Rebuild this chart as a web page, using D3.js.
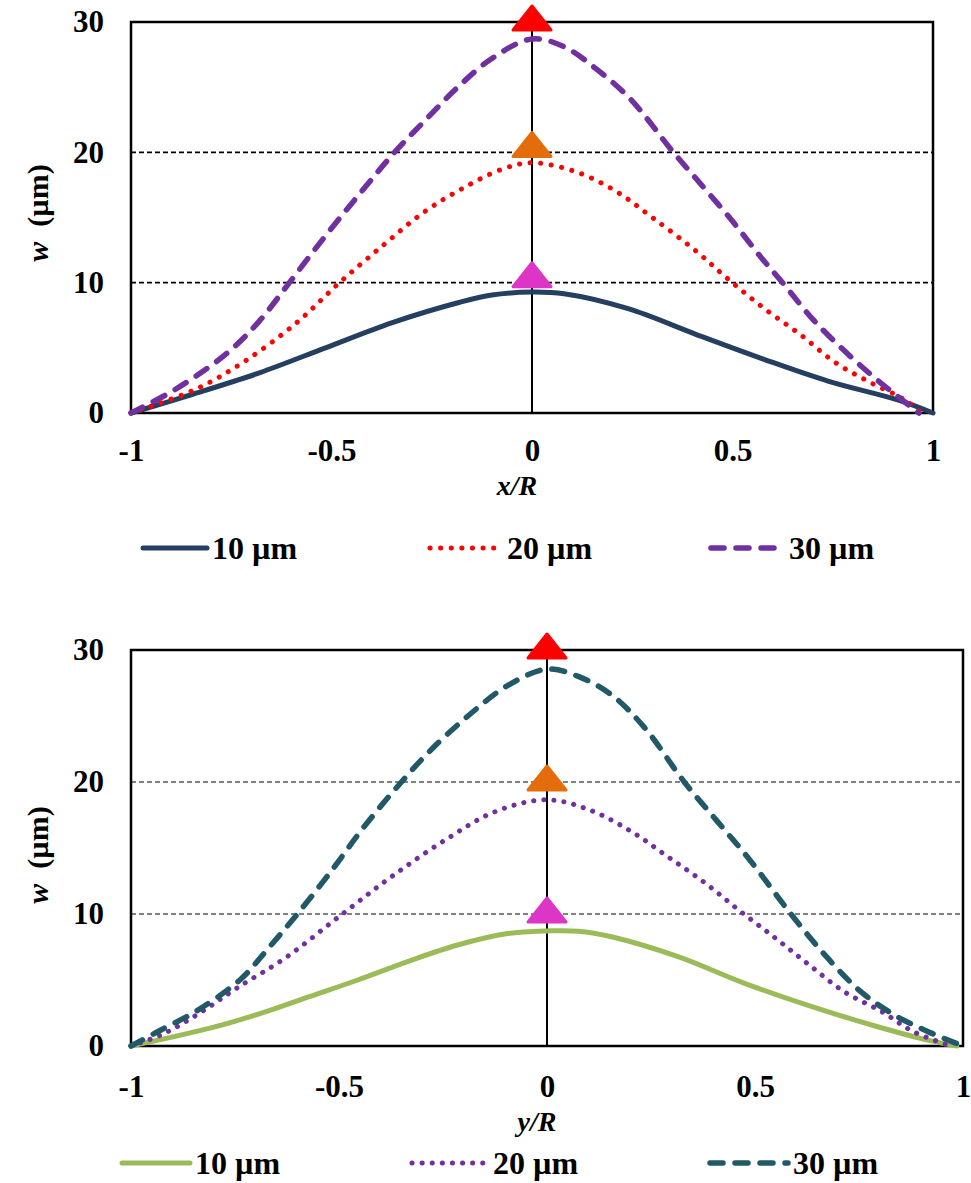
<!DOCTYPE html>
<html>
<head>
<meta charset="utf-8">
<script src="https://cdn.jsdelivr.net/npm/d3@7"></script>
<style>
  body { margin: 0; background: #fff; }
  text { font-family: "Liberation Serif", "Times New Roman", serif; font-weight: bold; }
</style>
</head>
<body>
<div id="chart"></div>
<script>
// ---- data ----
var xTicks = [-1, -0.5, 0, 0.5, 1];
var yTicks = [0, 10, 20, 30];
var gridValues = [10, 20];
var seriesNames = ["10 µm", "20 µm", "30 µm"];

// top panel (x/R)
var topX10 = [-1, -0.85, -0.68, -0.515, -0.35, -0.18, -0.1, 0, 0.08, 0.24, 0.41, 0.58, 0.74, 0.91, 1];
var topW10 = [0, 1.4, 3.08, 5.0, 6.92, 8.5, 9.05, 9.28, 9.15, 8.0, 6.02, 4.1, 2.43, 1.02, 0];
var topX20 = [-1, -0.84, -0.72, -0.59, -0.48, -0.37, -0.27, -0.175, -0.075, 0, 0.11, 0.21, 0.3, 0.41, 0.49, 0.58, 0.67, 0.755, 0.84, 0.93, 0.97];
var topW20 = [0, 1.8, 3.9, 6.85, 10.0, 12.9, 15.4, 17.2, 18.7, 19.2, 18.5, 17.0, 15.0, 12.4, 10.25, 8.0, 6.0, 3.9, 2.4, 1.0, 0];
var topX30 = [-1, -0.89, -0.76, -0.68, -0.605, -0.515, -0.425, -0.34, -0.265, -0.185, -0.1, 0, 0.08, 0.16, 0.245, 0.35, 0.41, 0.495, 0.575, 0.625, 0.7, 0.785, 0.87, 0.965];
var topW30 = [0, 1.8, 4.6, 7.05, 10.0, 13.6, 17.0, 20.1, 22.5, 25.0, 27.2, 28.7, 28.1, 26.4, 24.1, 20.1, 17.95, 14.9, 11.8, 10.0, 7.2, 4.6, 2.3, 0];
var topMarkers = [30, 20.3, 10.3];

// bottom panel (y/R)
var botX10 = [-1, -0.81, -0.69, -0.575, -0.455, -0.335, -0.215, -0.095, 0, 0.075, 0.155, 0.315, 0.475, 0.635, 0.795, 0.915, 0.985];
var botW10 = [0, 1.35, 2.45, 3.7, 5.0, 6.4, 7.65, 8.52, 8.72, 8.7, 8.28, 6.77, 4.75, 3.0, 1.46, 0.45, 0];
var botX20 = [-1, -0.92, -0.83, -0.745, -0.63, -0.5, -0.375, -0.245, -0.125, 0, 0.105, 0.205, 0.29, 0.38, 0.465, 0.55, 0.63, 0.715, 0.805, 0.88, 0.97];
var botW20 = [0, 0.95, 2.6, 4.4, 6.65, 9.8, 12.8, 15.6, 17.75, 18.65, 17.85, 16.2, 14.35, 12.35, 10.2, 8.15, 6.15, 4.1, 2.6, 1.1, 0];
var botX30 = [-1, -0.935, -0.84, -0.735, -0.67, -0.6, -0.52, -0.44, -0.35, -0.28, -0.19, -0.095, 0, 0.075, 0.155, 0.235, 0.33, 0.41, 0.49, 0.585, 0.675, 0.755, 0.835, 0.915, 1];
var botW30 = [0, 1.1, 2.7, 5.1, 7.4, 10.0, 13.2, 16.6, 20.0, 22.4, 25.0, 27.3, 28.55, 28.0, 26.6, 24.1, 20.0, 17.0, 14.0, 10.05, 6.65, 4.1, 2.35, 1.1, 0];
var botMarkers = [30, 20, 10];

var markerColors = ["#ff0000", "#e46c0a", "#dd35c6"];

function zip(xs, ws) {
    return xs.map(function(x, i) { return {x: x, w: ws[i]}; });
}

var svg = d3.select("#chart").append("svg")
    .attr("width", 971)
    .attr("height", 1183);

function drawPanel(p) {
    var x = d3.scaleLinear().domain([-1, 1]).range([p.left, p.right]);
    var y = d3.scaleLinear().domain([0, 30]).range([p.bottom, p.top]);
    var g = svg.append("g");

    // dashed gridlines
    g.selectAll(".grid").data(gridValues).enter().append("line")
        .attr("x1", p.left).attr("x2", p.right)
        .attr("y1", function(d) { return y(d); })
        .attr("y2", function(d) { return y(d); })
        .attr("stroke", p.gridColor)
        .attr("stroke-width", 1.6)
        .attr("stroke-dasharray", "5,3");

    // centre vertical line
    g.append("line")
        .attr("x1", x(0)).attr("x2", x(0))
        .attr("y1", y(0)).attr("y2", y(30))
        .attr("stroke", "#000").attr("stroke-width", 2);

    // frame
    g.append("rect")
        .attr("x", p.left).attr("y", p.top)
        .attr("width", p.right - p.left).attr("height", p.bottom - p.top)
        .attr("fill", "none").attr("stroke", "#000").attr("stroke-width", 2.5);

    // axes with labels only
    var xAxis = g.append("g")
        .attr("transform", "translate(0," + p.bottom + ")")
        .call(d3.axisBottom(x).tickValues(xTicks).tickSize(0).tickPadding(p.xPad)
            .tickFormat(function(d) { return String(d); }));
    var yAxis = g.append("g")
        .attr("transform", "translate(" + p.left + ",0)")
        .call(d3.axisLeft(y).tickValues(yTicks).tickSize(0).tickPadding(27));
    [xAxis, yAxis].forEach(function(a) {
        a.select(".domain").remove();
        a.selectAll("text")
            .attr("font-size", 31)
            .attr("fill", "#000");
    });

    // curves (smoothed like the spreadsheet lines)
    var line = d3.line()
        .x(function(d) { return x(d.x); })
        .y(function(d) { return y(d.w); })
        .curve(d3.curveCatmullRom.alpha(0.5));

    p.series.forEach(function(s) {
        g.append("path")
            .datum(s.data)
            .attr("fill", "none")
            .attr("stroke", s.color)
            .attr("stroke-width", s.width)
            .attr("stroke-dasharray", s.dash)
            .attr("stroke-linecap", "round")
            .attr("d", line);
    });

    // triangle markers at the centre
    var tri = "M0,-16 L-19,8 L19,8 Z";
    g.selectAll(".marker").data(p.markers).enter().append("path")
        .attr("d", tri)
        .attr("transform", function(d) { return "translate(" + x(0) + "," + y(d) + ")"; })
        .attr("fill", function(d, i) { return markerColors[i]; })
        .attr("stroke", function(d, i) { return markerColors[i]; })
        .attr("stroke-width", 3)
        .attr("stroke-linejoin", "round");

    // axis titles
    g.append("text")
        .attr("x", p.xTitleX).attr("y", p.bottom + p.xTitleDy)
        .attr("text-anchor", "middle")
        .attr("font-size", 28)
        .attr("font-style", "italic")
        .text(p.xTitle);

    var yt = g.append("text")
        .attr("transform", "translate(48," + p.yTitleY + ") rotate(-90)")
        .attr("text-anchor", "middle")
        .attr("font-size", 30);
    yt.append("tspan").attr("font-style", "italic").text("w");
    yt.append("tspan").text("\u00a0 (µm)");

    // legend
    var lg = g.selectAll(".legend").data(p.series).enter().append("g")
        .attr("transform", function(d, i) { return "translate(" + p.legendX[i] + "," + p.legendY + ")"; });
    lg.append("line")
        .attr("x1", 0).attr("x2", function(d) { return d.legLen; })
        .attr("y1", 0).attr("y2", 0)
        .attr("stroke", function(d) { return d.color; })
        .attr("stroke-width", function(d) { return d.width; })
        .attr("stroke-dasharray", function(d) { return d.dash; })
        .attr("stroke-linecap", "round");
    lg.append("text")
        .attr("x", function(d) { return d.legLen + 5; })
        .attr("y", 11)
        .attr("font-size", 32)
        .text(function(d, i) { return seriesNames[i]; });
}

drawPanel({
    left: 131, right: 933, top: 22, bottom: 413,
    gridColor: "#000",
    xPad: 26,
    xTitle: "x/R", xTitleX: 517, xTitleDy: 82,
    yTitleY: 213,
    legendY: 548, legendX: [143, 430, 711],
    markers: topMarkers,
    series: [
        {data: zip(topX10, topW10), color: "#243f60", width: 5, dash: null, legLen: 64},
        {data: zip(topX20, topW20), color: "#ff0000", width: 5, dash: "0.1,10.5", legLen: 72},
        {data: zip(topX30, topW30), color: "#7030a0", width: 5.5, dash: "13,12", legLen: 73}
    ]
});

drawPanel({
    left: 131, right: 963, top: 650, bottom: 1046,
    gridColor: "#5a5a5a",
    xPad: 29,
    xTitle: "y/R", xTitleX: 537, xTitleDy: 85,
    yTitleY: 855,
    legendY: 1163, legendX: [122, 412, 710],
    markers: botMarkers,
    series: [
        {data: zip(botX10, botW10), color: "#9bbb59", width: 5, dash: null, legLen: 68},
        {data: zip(botX20, botW20), color: "#7030a0", width: 5, dash: "0.1,10", legLen: 76},
        {data: zip(botX30, botW30), color: "#215968", width: 5.5, dash: "13,12", legLen: 78}
    ]
});
</script>
</body>
</html>
